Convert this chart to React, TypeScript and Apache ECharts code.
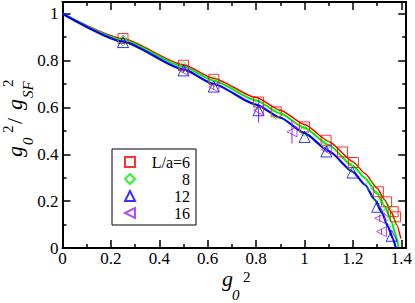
import React, { useEffect, useRef } from 'react';
import * as echarts from 'echarts';

// Data: [g0^2, g0^2/gSF^2]
const redPoints = [
  [0.25, 0.894], [0.5, 0.78], [0.625, 0.72], [0.81, 0.623], [0.883, 0.581],
  [1.0, 0.517], [1.089, 0.46], [1.157, 0.41], [1.202, 0.365], [1.305, 0.24],
  [1.339, 0.197], [1.366, 0.155], [1.376, 0.133],
];
const greenPoints = [
  [0.25, 0.886], [0.5, 0.772], [0.625, 0.71], [0.81, 0.612], [0.883, 0.573],
  [1.0, 0.5], [1.09, 0.44], [1.2, 0.345], [1.27, 0.268], [1.296, 0.219],
  [1.325, 0.183], [1.345, 0.155], [1.359, 0.112],
];
const bluePoints = [
  [0.25, 0.879], [0.5, 0.758], [0.625, 0.689], [0.81, 0.588], [1.0, 0.474],
  [1.09, 0.412], [1.198, 0.322], [1.3, 0.176], [1.36, 0.052],
];
// [x, y, error]
const purplePoints = [
  [0.5, 0.758, 0.01], [0.625, 0.688, 0.012], [0.81, 0.588, 0.053],
  [0.948, 0.496, 0.05], [1.09, 0.42, 0.01], [1.311, 0.127, 0.015], [1.318, 0.07, 0.01],
];
const redCurve = [
  [0, 1], [0.25, 0.893], [0.5, 0.782], [0.625, 0.724], [0.8, 0.642], [0.9, 0.588],
  [1.0, 0.527], [1.1, 0.455], [1.2, 0.368], [1.25, 0.318], [1.3, 0.255], [1.33, 0.207],
  [1.36, 0.15], [1.38, 0.1], [1.398, 0.04],
];
const greenCurve = [
  [0, 1], [0.25, 0.888], [0.5, 0.774], [0.625, 0.714], [0.8, 0.63], [0.9, 0.574],
  [1.0, 0.512], [1.1, 0.44], [1.2, 0.35], [1.25, 0.298], [1.3, 0.232], [1.33, 0.18],
  [1.36, 0.11], [1.375, 0.06], [1.388, 0.005],
];
const blueCurve = [
  [0, 1], [0.25, 0.881], [0.5, 0.762], [0.625, 0.7], [0.8, 0.612], [0.9, 0.556],
  [1.0, 0.49], [1.1, 0.414], [1.2, 0.325], [1.25, 0.27], [1.29, 0.205], [1.32, 0.15],
  [1.345, 0.091], [1.365, 0.04], [1.377, 0],
];
const seriesNames = ['L/a=6', '8', '12', '16'];
const xTickStep = 0.2;
const yTickStep = 0.2;

const FONT = '"Liberation Serif", "Times New Roman", serif';
const RED = '#ff0000';
const GREEN = '#00f000';
const BLUE = '#0000ff';
const PURPLE = '#a020f0';

function fmt(step: number) {
  return (v: number) => {
    const r = v / step;
    if (Math.abs(r - Math.round(r)) > 1e-6) return '';
    return String(+v.toFixed(1));
  };
}

function txt(text: string, x: number, y: number, size: number, italic: boolean) {
  return {
    type: 'text', x, y,
    style: {
      text, fill: '#000', fontFamily: FONT, fontSize: size,
      fontStyle: italic ? 'italic' : 'normal', verticalAlign: 'top', align: 'left',
    },
  };
}

export default function App() {
  const ref = useRef<HTMLDivElement>(null);
  useEffect(() => {
    if (!ref.current) return;
    const chart = echarts.init(ref.current, null, { renderer: 'svg' });
    const axisCommon = {
      type: 'value' as const,
      axisLine: { show: true, onZero: false, lineStyle: { color: '#000', width: 2 } },
      axisTick: { show: true, inside: true, length: 8, lineStyle: { color: '#000', width: 1.5 } },
      minorTick: { show: true, splitNumber: 2, length: 4, lineStyle: { color: '#000', width: 1.5 } },
      splitLine: { show: false },
    };
    const hollow = (c: string) => ({ color: 'rgba(0,0,0,0)', borderColor: c, borderWidth: 1 });
    chart.setOption({
      animation: false,
      backgroundColor: '#fff',
      textStyle: { fontFamily: FONT },
      grid: { left: 62.5, right: 7, top: 2, bottom: 55, containLabel: false },
      xAxis: [
        {
          ...axisCommon, position: 'bottom', min: 0, max: 1.42, interval: xTickStep,
          axisLabel: { show: true, margin: 2, fontFamily: FONT, fontSize: 17, color: '#000', formatter: fmt(xTickStep) },
        },
        {
          ...axisCommon, position: 'top', min: 0, max: 1.42, interval: xTickStep,
          axisLabel: { show: false },
        },
      ],
      yAxis: [
        {
          ...axisCommon, position: 'left', min: 0, max: 1.05, interval: yTickStep,
          axisLabel: { show: true, margin: 4, fontFamily: FONT, fontSize: 17, color: '#000', formatter: fmt(yTickStep) },
        },
        {
          ...axisCommon, position: 'right', min: 0, max: 1.05, interval: yTickStep,
          axisLabel: { show: false },
        },
      ],
      legend: {
        orient: 'vertical',
        left: 112,
        top: 149,
        padding: [5, 6, 4, 12],
        itemGap: 1,
        itemWidth: 10,
        itemHeight: 10,
        borderColor: '#000',
        borderWidth: 1,
        backgroundColor: '#fff',
        data: seriesNames,
        formatter: (name: string) => `{r|${name}}`,
        textStyle: {
          fontFamily: FONT, fontSize: 16, color: '#000', lineHeight: 15,
          rich: { r: { width: 50, align: 'right', fontFamily: FONT, fontSize: 16, color: '#000', lineHeight: 15 } },
        },
      },
      series: [
        { type: 'line', data: redCurve, showSymbol: false, smooth: 0.2, smoothMonotone: 'x', lineStyle: { color: RED, width: 1.5 }, z: 2 },
        { type: 'line', data: greenCurve, showSymbol: false, smooth: 0.2, smoothMonotone: 'x', lineStyle: { color: GREEN, width: 2 }, z: 2 },
        { type: 'line', data: blueCurve, showSymbol: false, smooth: 0.2, smoothMonotone: 'x', lineStyle: { color: BLUE, width: 2.2 }, z: 2 },
        {
          type: 'custom', z: 3,
          data: purplePoints,
          encode: { x: 0, y: 1 },
          renderItem: (params: any, api: any) => {
            const x = api.value(0), y = api.value(1), e = api.value(2);
            if (!e) return null;
            const a = api.coord([x, y + e]);
            const b = api.coord([x, y - e]);
            return { type: 'line', shape: { x1: a[0], y1: a[1], x2: b[0], y2: b[1] }, style: { stroke: PURPLE, lineWidth: 1 } };
          },
        },
        { name: seriesNames[0], type: 'scatter', data: redPoints, symbol: 'rect', symbolSize: 10, itemStyle: hollow(RED), z: 4 },
        { name: seriesNames[1], type: 'scatter', data: greenPoints, symbol: 'diamond', symbolSize: 11, itemStyle: hollow(GREEN), z: 4 },
        { name: seriesNames[2], type: 'scatter', data: bluePoints, symbol: 'triangle', symbolSize: 11, itemStyle: hollow(BLUE), z: 4 },
        {
          name: seriesNames[3], type: 'scatter', data: purplePoints.map((p) => [p[0], p[1]]),
          symbol: 'path://M0,5L10,0L10,10Z', symbolSize: 10, itemStyle: hollow(PURPLE), z: 4,
        },
      ],
      graphic: [
        // x-axis title: g_0^2
        txt('g', 222, 267, 22, true),
        txt('0', 232, 287, 15, true),
        txt('2', 243, 269, 15, false),
        // y-axis title: g_0^2 / g_SF^2 (rotated, reads bottom to top)
        {
          type: 'group', x: 22, y: 157, rotation: Math.PI / 2,
          children: [
            txt('g', 0, -18.5, 22, true),
            txt('0', 12, -1.5, 15, true),
            txt('2', 24, -21.5, 15, false),
            txt('/', 33, -18.5, 22, false),
            txt('g', 47, -18.5, 22, true),
            txt('SF', 59, -1.5, 15, true),
            txt('2', 70, -21.5, 15, false),
          ],
        },
      ],
    });
    return () => chart.dispose();
  }, []);
  return <div ref={ref} style={{ position: 'fixed', left: 0, top: 0, width: 415, height: 303 }} />;
}
